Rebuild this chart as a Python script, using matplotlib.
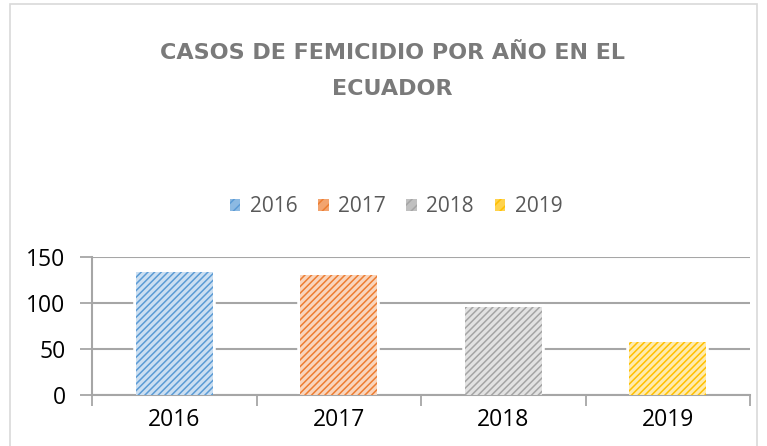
import matplotlib
matplotlib.use("Agg")
import matplotlib.pyplot as plt
from matplotlib.patches import Rectangle, Patch
import matplotlib.colors as mcolors
import numpy as np

categories = ["2016", "2017", "2018", "2019"]
values = [134, 130, 96, 58]
colors = ["#5B9BD5", "#ED7D31", "#A5A5A5", "#FFC000"]
title = "CASOS DE FEMICIDIO POR AÑO EN EL\nECUADOR"
yticks = [0, 50, 100, 150]

plt.rcParams['font.family'] = ['Open Sans', 'DejaVu Sans']
plt.rcParams['hatch.linewidth'] = 1.1

def lighten(c, f):
    r = np.array(mcolors.to_rgb(c))
    return tuple(r + (1 - r) * f)

fig = plt.figure(figsize=(7.67, 4.46), dpi=100)
fig.patches.append(Rectangle((10/767, -0.01), (757-10)/767, 1 - 4/446 + 0.01,
                             transform=fig.transFigure, fill=False,
                             edgecolor="#d9d9d9", linewidth=1.2))

ax = fig.add_axes([92/767, 1 - 395/446, (750-92)/767, (395-257)/446])
x = np.arange(len(categories))
handles = []
for i, (c, v, col) in enumerate(zip(categories, values, colors)):
    ax.bar(i, v, width=0.47, fill=False, edgecolor="white", linewidth=4, zorder=2.5)
    ax.bar(i, v, width=0.47, color=lighten(col, 0.68), edgecolor=col,
           linewidth=0, hatch="/////", zorder=3)
    handles.append(Patch(facecolor=lighten(col, 0.3), edgecolor=col, hatch="///",
                         linewidth=0, label=c))

ax.set_xlim(-0.5, len(categories) - 0.5)
ax.set_ylim(0, 150)
ax.set_yticks(yticks)
ax.set_yticklabels([str(t) for t in yticks], fontsize=16.5, color="#000000")
ax.yaxis.grid(True, color="#a6a6a6", linewidth=1.5, zorder=0)
ax.set_axisbelow(True)

ax.set_xticks(np.arange(-0.5, len(categories)), minor=False)
ax.set_xticklabels([""] * (len(categories) + 1))
ax.set_xticks(x, minor=True)
ax.set_xticklabels(categories, minor=True, fontsize=16.5, color="#000000")
ax.tick_params(axis="x", which="major", direction="out", length=8, width=1.3, color="#a6a6a6")
ax.tick_params(axis="x", which="minor", length=0, pad=9)
ax.tick_params(axis="y", direction="out", length=9, width=1.3, color="#a6a6a6", pad=10)

for s in ["top", "right"]:
    ax.spines[s].set_visible(False)
for s in ["left", "bottom"]:
    ax.spines[s].set_color("#a6a6a6")
    ax.spines[s].set_linewidth(1.5)
ax.spines["left"].set_bounds(0, 150)

fig.text(392/767, 1 - 71/446, title, ha="center", va="center", fontsize=16,
         fontweight="bold", family="DejaVu Sans", color="#7a7a7a", linespacing=2.05)

fig.legend(handles=handles, loc="center", bbox_to_anchor=(396/767, 1 - 207/446),
           ncol=4, frameon=False, fontsize=15, handlelength=0.5, handleheight=0.5,
           handletextpad=0.45, columnspacing=1.0, labelcolor="#595959")

fig.savefig("out.png", dpi=100)
